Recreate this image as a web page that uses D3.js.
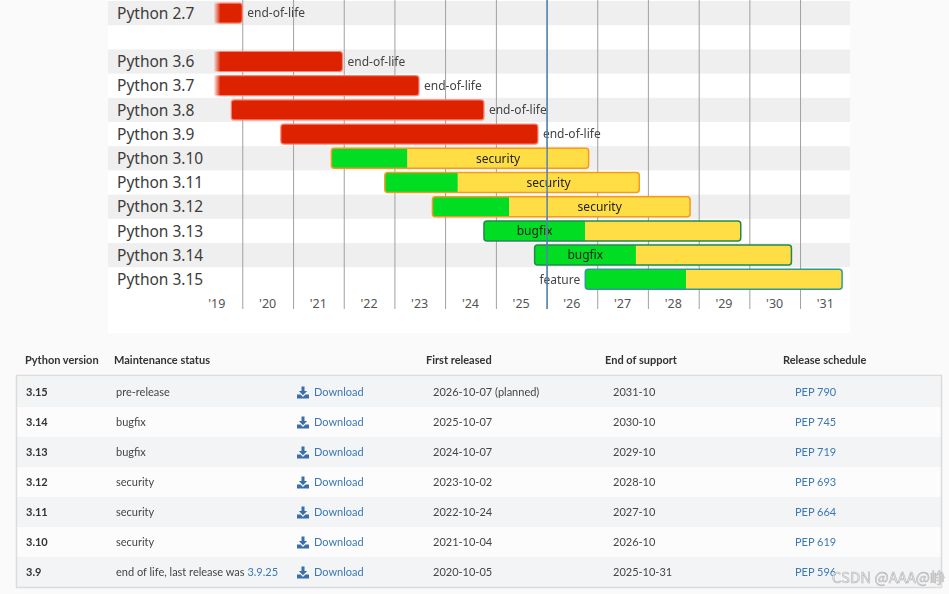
<!DOCTYPE html>
<html>
<head>
<meta charset="utf-8">
<script src="https://cdn.jsdelivr.net/npm/d3@7"></script>
<style>
  html, body { margin: 0; padding: 0; background: #fafafa; }
  svg { display: block; }
</style>
</head>
<body>
<svg id="chart" width="949" height="594"></svg>
<script>
// ---- release chart data ----
const branches = ['2.7', '3.6', '3.7', '3.8', '3.9', '3.10', '3.11', '3.12', '3.13', '3.14', '3.15']
const rowOrder = ['2.7', 'gap', '3.6', '3.7', '3.8', '3.9', '3.10', '3.11', '3.12', '3.13', '3.14', '3.15']
const firstRelease = ['2010-07-03', '2016-12-23', '2018-06-27', '2019-10-14', '2020-10-05', '2021-10-04',
                      '2022-10-24', '2023-10-02', '2024-10-07', '2025-10-07', '2026-10-07']
const bugfixEnd = [null, null, null, null, null, '2023-04-05', '2024-04-02', '2025-04-08',
                   '2026-10-07', '2027-10-07', '2028-10-02']
const endOfLife = ['2020-01-01', '2021-12-23', '2023-06-27', '2024-10-07', '2025-10-31', '2026-10-31',
                   '2027-10-31', '2028-10-31', '2029-10-31', '2030-10-31', '2031-10-31']
const chartStatus = ['end-of-life', 'end-of-life', 'end-of-life', 'end-of-life', 'end-of-life',
                     'security', 'security', 'security', 'bugfix', 'bugfix', 'feature']
const tickYears = [2019, 2020, 2021, 2022, 2023, 2024, 2025, 2026, 2027, 2028, 2029, 2030, 2031]
const visibleFrom = '2019-06-15'
const today = '2026-01-05'

// ---- table data ----
const tableHeaders = ['Python version', 'Maintenance status', '', 'First released', 'End of support', 'Release schedule']
const tableVersions = ['3.15', '3.14', '3.13', '3.12', '3.11', '3.10', '3.9']
const tableStatus = ['pre-release', 'bugfix', 'bugfix', 'security', 'security', 'security', 'end of life, last release was ']
const tableLastRelease = [null, null, null, null, null, null, '3.9.25']
const tableFirstReleased = ['2026-10-07 (planned)', '2025-10-07', '2024-10-07', '2023-10-02', '2022-10-24', '2021-10-04', '2020-10-05']
const tableEndOfSupport = ['2031-10', '2030-10', '2029-10', '2028-10', '2027-10', '2026-10', '2025-10-31']
const tablePep = ['PEP 790', 'PEP 745', 'PEP 719', 'PEP 693', 'PEP 664', 'PEP 619', 'PEP 596']

const parse = d3.utcParse('%Y-%m-%d')
const svg = d3.select('#chart')

const CHART_FONT = '"Noto Sans", "Open Sans", sans-serif'
const TABLE_FONT = 'Lato, "Noto Sans", sans-serif'
const LINK_COLOR = '#3b78b5'

const STYLE = {
  'end-of-life': { stroke: '#ff8070' },
  'security': { stroke: '#f59a1b' },
  'bugfix': { stroke: '#23894d' },
  'feature': { stroke: '#2f9c94' }
}
const RED = '#dd2200'
const GREEN = '#00dd22'
const YELLOW = '#ffdd44'

// panel
svg.append('rect')
  .attr('x', 108).attr('y', 0).attr('width', 742).attr('height', 333)
  .attr('fill', '#ffffff')

const x = d3.scaleUtc()
  .domain([new Date(Date.UTC(2019, 0, 1)), new Date(Date.UTC(2032, 0, 1))])
  .range([191.6, 850.7])

const y = d3.scaleBand()
  .domain(rowOrder)
  .range([1, 291.4])

// stripes
svg.append('g').selectAll('rect')
  .data(rowOrder.filter((d, i) => i % 2 === 0))
  .join('rect')
  .attr('x', 108).attr('width', 742)
  .attr('y', d => y(d)).attr('height', y.bandwidth())
  .attr('fill', '#efefef')

// year grid lines
const gridYears = tickYears.filter(yr => x(new Date(Date.UTC(yr, 0, 1))) > x(parse(visibleFrom)))
svg.append('g').selectAll('line')
  .data(gridYears)
  .join('line')
  .attr('x1', yr => x(new Date(Date.UTC(yr, 0, 1))) + 0.5)
  .attr('x2', yr => x(new Date(Date.UTC(yr, 0, 1))) + 0.5)
  .attr('y1', 0).attr('y2', 309)
  .attr('stroke', '#a0a0a0').attr('stroke-width', 1)

// year labels
svg.append('g').selectAll('text')
  .data(tickYears)
  .join('text')
  .attr('x', yr => x(new Date(Date.UTC(yr, 6, 2))))
  .attr('y', 305)
  .attr('text-anchor', 'middle')
  .attr('dominant-baseline', 'middle')
  .attr('font-family', CHART_FONT)
  .attr('font-size', 12.5)
  .attr('fill', '#555')
  .text(yr => d3.utcFormat("'%y")(new Date(Date.UTC(yr, 0, 1))))

// row labels
svg.append('g').selectAll('text')
  .data(branches)
  .join('text')
  .attr('x', 117)
  .attr('y', d => y(d) + y.bandwidth() / 2 + 1.5)
  .attr('dominant-baseline', 'middle')
  .attr('font-family', CHART_FONT)
  .attr('font-size', 15.5)
  .attr('fill', '#3c3c3c')
  .text(d => 'Python ' + d)

// fade mask for bars running off the left edge
const defs = svg.append('defs')
const fadeGrad = defs.append('linearGradient')
  .attr('id', 'fadeGrad')
  .attr('gradientUnits', 'userSpaceOnUse')
  .attr('x1', x(parse(visibleFrom)) - 1).attr('x2', x(parse(visibleFrom)) + 6)
  .attr('y1', 0).attr('y2', 0)
fadeGrad.append('stop').attr('offset', 0).attr('stop-color', '#000')
fadeGrad.append('stop').attr('offset', 1).attr('stop-color', '#fff')
defs.append('mask')
  .attr('id', 'fadeMask')
  .attr('maskUnits', 'userSpaceOnUse')
  .attr('x', 0).attr('y', 0).attr('width', 949).attr('height', 594)
  .append('rect')
  .attr('x', 0).attr('y', 0).attr('width', 949).attr('height', 594)
  .attr('fill', 'url(#fadeGrad)')

const barH = 20
const bars = svg.append('g').attr('mask', 'url(#fadeMask)')
const labels = svg.append('g')
  .attr('font-family', CHART_FONT)
  .attr('font-size', 12)

branches.forEach((name, i) => {
  const status = chartStatus[i]
  const by = y(name) + (y.bandwidth() - barH) / 2
  const x0 = Math.max(x(parse(firstRelease[i])), x(parse(visibleFrom)) - 6)
  const x1 = x(parse(endOfLife[i]))
  const clipId = 'clip-' + i

  if (status === 'end-of-life') {
    bars.append('rect')
      .attr('x', x0).attr('y', by)
      .attr('width', x1 - x0).attr('height', barH)
      .attr('rx', 3)
      .attr('fill', RED)
      .attr('stroke', STYLE[status].stroke).attr('stroke-width', 1.2)
    labels.append('text')
      .attr('x', x1 + 5).attr('y', by + barH / 2 + 1)
      .attr('dominant-baseline', 'middle')
      .attr('fill', '#444')
      .text(status)
    return
  }

  const xb = x(parse(bugfixEnd[i]))
  defs.append('clipPath').attr('id', clipId)
    .append('rect')
    .attr('x', x0).attr('y', by).attr('width', x1 - x0).attr('height', barH).attr('rx', 3)
  const seg = bars.append('g').attr('clip-path', 'url(#' + clipId + ')')
  seg.append('rect')
    .attr('x', x0).attr('y', by).attr('width', xb - x0).attr('height', barH)
    .attr('fill', GREEN)
  seg.append('rect')
    .attr('x', xb).attr('y', by).attr('width', x1 - xb).attr('height', barH)
    .attr('fill', YELLOW)
  bars.append('rect')
    .attr('x', x0).attr('y', by)
    .attr('width', x1 - x0).attr('height', barH)
    .attr('rx', 3)
    .attr('fill', 'none')
    .attr('stroke', STYLE[status].stroke).attr('stroke-width', 1.5)

  let lx = (xb + x1) / 2
  let anchor = 'middle'
  let color = '#222'
  if (status === 'bugfix') { lx = (x0 + xb) / 2 }
  if (status === 'feature') { lx = x0 - 5; anchor = 'end'; color = '#444' }
  labels.append('text')
    .attr('x', lx).attr('y', by + barH / 2 + 1)
    .attr('text-anchor', anchor)
    .attr('dominant-baseline', 'middle')
    .attr('fill', color)
    .text(status)
})

// today marker
svg.append('line')
  .attr('x1', x(parse(today))).attr('x2', x(parse(today)))
  .attr('y1', 0).attr('y2', 309)
  .attr('stroke', '#5283b3').attr('stroke-width', 1.5)

// ---- versions table ----
const colX = [26, 116, 297, 433, 613, 795]
const headX = [25, 114, 0, 426, 605, 783]

const head = svg.append('g')
  .attr('font-family', TABLE_FONT)
  .attr('font-size', 11)
  .attr('font-weight', 'bold')
  .attr('fill', '#333')
head.selectAll('text')
  .data(tableHeaders)
  .join('text')
  .attr('x', (d, i) => headX[i])
  .attr('y', 361)
  .attr('dominant-baseline', 'middle')
  .text(d => d)

const rowY = d3.scaleBand()
  .domain(tableVersions)
  .range([377, 587])

const table = svg.append('g')
  .attr('font-family', TABLE_FONT)
  .attr('font-size', 11)
  .attr('fill', '#444')

table.selectAll('rect.row-bg')
  .data(tableVersions)
  .join('rect')
  .attr('class', 'row-bg')
  .attr('x', 17).attr('width', 924)
  .attr('y', d => rowY(d)).attr('height', rowY.bandwidth())
  .attr('fill', (d, i) => i % 2 === 0 ? '#f3f4f6' : '#fcfcfd')

svg.append('rect')
  .attr('x', 16.5).attr('y', 375.5).attr('width', 925).attr('height', 212)
  .attr('fill', 'none')
  .attr('stroke', '#dcdcdc').attr('stroke-width', 1.5)

tableVersions.forEach((ver, i) => {
  const cy = rowY(ver) + rowY.bandwidth() / 2 + 1
  const row = table.append('g')

  row.append('text')
    .attr('x', colX[0]).attr('y', cy)
    .attr('dominant-baseline', 'middle')
    .attr('font-weight', 'bold')
    .attr('fill', '#333')
    .text(ver)

  const st = row.append('text')
    .attr('x', colX[1]).attr('y', cy)
    .attr('dominant-baseline', 'middle')
  st.append('tspan').text(tableStatus[i])
  if (tableLastRelease[i]) {
    st.append('tspan').attr('fill', LINK_COLOR).text(tableLastRelease[i])
  }

  const icon = row.append('g')
    .attr('transform', 'translate(' + colX[2] + ',' + (cy - 6.5) + ')')
    .attr('fill', '#3a6ea8')
  icon.append('path').attr('d', 'M4.5,0 h3 v4.5 h2.6 l-4.1,4.2 l-4.1,-4.2 h2.6 z')
  icon.append('path').attr('d', 'M0,8 h3.6 l2.4,2.4 l2.4,-2.4 h3.6 v4 h-12 z')

  row.append('text')
    .attr('x', colX[2] + 17).attr('y', cy)
    .attr('dominant-baseline', 'middle')
    .attr('fill', LINK_COLOR)
    .text('Download')

  row.append('text')
    .attr('x', colX[3]).attr('y', cy)
    .attr('dominant-baseline', 'middle')
    .text(tableFirstReleased[i])

  row.append('text')
    .attr('x', colX[4]).attr('y', cy)
    .attr('dominant-baseline', 'middle')
    .text(tableEndOfSupport[i])

  row.append('text')
    .attr('x', colX[5]).attr('y', cy)
    .attr('dominant-baseline', 'middle')
    .attr('fill', LINK_COLOR)
    .text(tablePep[i])
})

// watermark
svg.append('text')
  .attr('x', 945).attr('y', 579)
  .attr('text-anchor', 'end')
  .attr('dominant-baseline', 'middle')
  .attr('font-family', '"Noto Sans CJK SC", "Noto Sans", sans-serif')
  .attr('font-size', 15)
  .attr('fill', '#e6e6e6')
  .attr('fill-opacity', 0.85)
  .attr('stroke', '#8a8a8a')
  .attr('stroke-opacity', 0.55)
  .attr('stroke-width', 0.6)
  .text('CSDN @AAA@峥')
</script>
</body>
</html>
